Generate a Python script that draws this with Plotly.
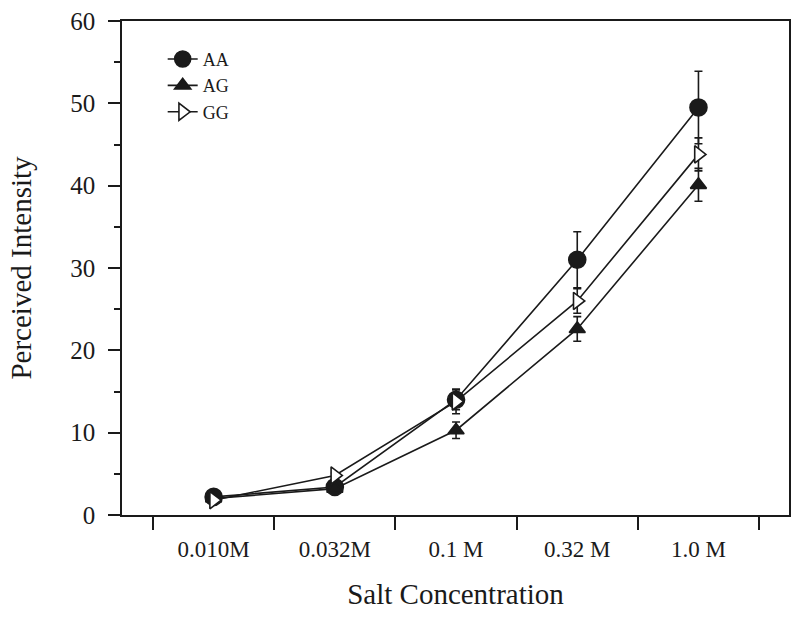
import plotly.graph_objects as go

categories = ["0.010M", "0.032M", "0.1 M", "0.32 M", "1.0 M"]
x_idx = [0, 1, 2, 3, 4]

aa_vals = [2.2, 3.4, 14.0, 31.0, 49.5]
aa_err = [0.3, 0.3, 1.2, 3.4, 4.4]
ag_vals = [2.0, 3.2, 10.3, 22.6, 40.1]
ag_err = [0.2, 0.3, 1.0, 1.5, 2.0]
gg_vals = [1.8, 4.8, 13.8, 26.0, 43.8]
gg_err = [0.2, 0.3, 1.5, 1.5, 2.0]

FONT = "Liberation Serif"
INK = "#1a1a1a"

fig = go.Figure()

def add(name, vals, err, symbol, size, fill):
    fig.add_trace(go.Scatter(
        x=x_idx, y=vals, name=name, mode="lines+markers",
        line=dict(color=INK, width=1.6),
        marker=dict(symbol=symbol, size=size, color=fill,
                    line=dict(color=INK, width=1.6)),
        error_y=dict(type="data", array=err, visible=True,
                     color=INK, thickness=1.6, width=4),
    ))

add("AA", aa_vals, aa_err, "circle", 17, INK)
add("AG", ag_vals, ag_err, "triangle-up", 14, INK)
add("GG", gg_vals, gg_err, "triangle-right", 15, "white")

fig.update_layout(
    width=800, height=618,
    margin=dict(l=122, r=11, t=21, b=103),
    paper_bgcolor="white", plot_bgcolor="white",
    font=dict(family=FONT, color=INK),
    showlegend=True,
    legend=dict(x=0.061, y=0.96, xanchor="left", yanchor="top",
                font=dict(family=FONT, size=18, color=INK),
                bgcolor="rgba(0,0,0,0)", tracegroupgap=0,
                itemwidth=30),
)

fig.update_xaxes(
    range=[-0.756, 4.747], automargin=False,
    tickmode="array", tickvals=x_idx, ticktext=categories,
    ticks="outside", ticklen=13, tickcolor="rgba(0,0,0,0)",
    tickfont=dict(family=FONT, size=23, color=INK),
    minor=dict(tickmode="array", tickvals=[-0.5, 0.5, 1.5, 2.5, 3.5, 4.5],
               ticks="outside", ticklen=13, tickcolor=INK, tickwidth=1.6),
    showline=True, linecolor=INK, linewidth=1.6, mirror=True,
    showgrid=False, zeroline=False,
    title=dict(text="Salt Concentration", font=dict(family=FONT, size=29, color=INK),
               standoff=22),
)

fig.update_yaxes(
    range=[0, 60], automargin=False,
    tickmode="array", tickvals=[0, 10, 20, 30, 40, 50, 60],
    ticks="outside", ticklen=12, tickwidth=1.6, tickcolor=INK,
    tickfont=dict(family=FONT, size=25, color=INK),
    ticklabelstandoff=8,
    minor=dict(tickmode="array", tickvals=[5, 15, 25, 35, 45, 55],
               ticks="outside", ticklen=6, tickcolor=INK, tickwidth=1.6),
    showline=True, linecolor=INK, linewidth=1.6, mirror=True,
    showgrid=False, zeroline=False,
    title=dict(text="Perceived Intensity", font=dict(family=FONT, size=29, color=INK),
               standoff=30),
)

fig.write_html(
    "out.html",
    config={"displayModeBar": False},
    post_script="document.body.style.margin='0';document.body.style.overflow='hidden';",
)
